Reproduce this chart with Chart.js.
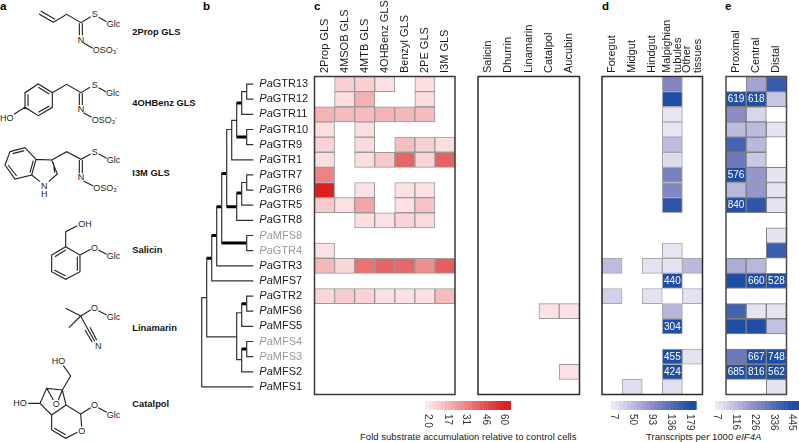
<!DOCTYPE html>
<html><head><meta charset="utf-8">
<script src="https://cdn.jsdelivr.net/npm/chart.js@4"></script>
<style>
html,body{margin:0;padding:0;background:#fff;width:799px;height:442px;overflow:hidden;font-family:"Liberation Sans",Arial,sans-serif}
canvas{position:absolute;left:0;top:0}
.t{position:absolute;color:#1a1a1a;white-space:nowrap}
.p{font-weight:bold;font-size:11.5px;color:#000}
svg{position:absolute;left:0;top:0}
svg text{font-family:"Liberation Sans",Arial,sans-serif;fill:#222}
svg path{fill:none;stroke:#222;stroke-width:3.4}
</style></head><body>
<svg width="200" height="442" viewBox="0 0 600 1326">
<g font-size="27">
<path d="M117 42L160 67M122 33L165 58M160 67L200 43L243 68L272 50M296 52L320 65M238 70L238 106M247 70L247 106M250 128L278 145"/>
<text x="275" y="52">S</text><text x="320" y="80">Glc</text><text x="233" y="128">N</text><text x="278" y="159">OSO<tspan font-size="18" dy="4">3</tspan><tspan font-size="18" dy="-12">-</tspan></text>
<path d="M115 252L157 278L157 322L115 347L75 322L75 278ZM84 283L84 318M115 262L148 282M148 318L115 337M157 278L200 253L243 278L270 262M296 263L318 275M238 280L238 315M247 280L247 315M250 338L275 352M75 322L42 343"/>
<text x="275" y="264">S</text><text x="318" y="288">Glc</text><text x="233" y="335">N</text><text x="275" y="368">OSO<tspan font-size="18" dy="4">3</tspan><tspan font-size="18" dy="-12">-</tspan></text><text x="0" y="364">HO</text>
<path d="M30 455L75 443L108 478L95 525L45 537L15 495ZM38 461L73 452M100 482L90 518M50 528L24 495M108 478L155 480L172 522L146 545M120 545L95 525M160 488L164 518M155 480L200 455L243 478L272 462M296 462L320 475M238 480L238 520M247 480L247 520M250 543L280 558"/>
<text x="275" y="466">S</text><text x="320" y="490">Glc</text><text x="233" y="540">N</text><text x="280" y="572">OSO<tspan font-size="18" dy="4">3</tspan><tspan font-size="18" dy="-12">-</tspan></text><text x="123" y="566">N</text><text x="123" y="591">H</text>
<path d="M197 740L240 765L240 815L197 838L155 815L155 765ZM165 770L197 750M232 770L232 812M197 828L163 810M197 740L197 695L232 677M240 765L272 748M295 750L320 763"/>
<text x="235" y="681">OH</text><text x="273" y="752">O</text><text x="320" y="778">Glc</text>
<path d="M242 948L197 925M242 948L207 983M242 948L272 930M295 932L320 945M242 948L262 985M262 985L284 1024M270 982L290 1020M255 990L277 1027"/>
<text x="273" y="934">O</text><text x="320" y="960">Glc</text><text x="285" y="1048">N</text>
<path d="M190 1097L212 1128L187 1170L140 1165L120 1210L155 1245L155 1290L197 1315L232 1297M245 1280L242 1242L198 1215L187 1170M198 1215L155 1245M85 1210L120 1210M140 1165L160 1200M187 1170L175 1200M163 1285L197 1304M242 1242L272 1223M295 1223L320 1237"/>
<text x="155" y="1092">HO</text><text x="40" y="1219">HO</text><text x="158" y="1222">O</text><text x="235" y="1303">O</text><text x="273" y="1225">O</text><text x="320" y="1253">Glc</text>
</g>
<g font-size="28" font-weight="bold" fill="#111">
<text x="397" y="105" style="fill:#111">2Prop GLS</text>
<text x="397" y="318" style="fill:#111">4OHBenz GLS</text>
<text x="397" y="527" style="fill:#111">I3M GLS</text>
<text x="397" y="760" style="fill:#111">Salicin</text>
<text x="397" y="992" style="fill:#111">Linamarin</text>
<text x="397" y="1222" style="fill:#111">Catalpol</text>
</g>
</svg>
<div class="t p" style="left:0;top:0">a</div>
<div class="t p" style="left:203px;top:0">b</div>
<div class="t p" style="left:314px;top:0">c</div>
<div class="t p" style="left:602px;top:0">d</div>
<div class="t p" style="left:725px;top:0">e</div>
<div class="t" style="left:360px;top:431px;font-size:9.55px">Fold substrate accumulation relative to control cells</div>
<div class="t" style="left:646px;top:431px;font-size:9.55px">Transcripts per 1000 <i>eIF4A</i></div>
<script>
const genes=['GTR13','GTR12','GTR11','GTR10','GTR9','GTR1','GTR7','GTR6','GTR5','GTR8','MFS8','GTR4','GTR3','MFS7','GTR2','MFS6','MFS5','MFS4','MFS3','MFS2','MFS1'];
const greyGenes=['MFS8','GTR4','MFS4','MFS3'];
const glsColumns=['2Prop GLS','4MSOB GLS','4MTB GLS','4OHBenz GLS','Benzyl GLS','2PE GLS','I3M GLS'];
const otherColumns=['Salicin','Dhurrin','Linamarin','Catalpol','Aucubin'];
const tissueColumns=['Foregut','Midgut','Hindgut',['Malpighian','tubules'],['Other','tissues']];
const segmentColumns=['Proximal','Central','Distal'];
const _=null;
const glsFold=[
[_,9,9,4,_,5,_],[_,5,18,_,_,5,_],[17,15,15,17,16,15,_],[5,_,5,_,_,_,_],[8,_,6,_,14,9,5],
[5,_,5,11,40,8,41],[31,_,_,_,_,_,_],[60,_,4,_,4,4,_],[10,4,21,_,4,13,_],[_,_,5,4,8,6,_],
[_,_,_,_,_,_,_],[4,_,_,_,_,_,_],[16,7,36,40,39,28,42],[_,_,_,_,_,_,_],[7,10,8,4,4,4,15],
[_,_,_,_,_,_,_],[_,_,_,_,_,_,_],[_,_,_,_,_,_,_],[_,_,_,_,_,_,_],[_,_,_,_,_,_,_],[_,_,_,_,_,_,_]];
const otherFold=[
[_,_,_,_,_],[_,_,_,_,_],[_,_,_,_,_],[_,_,_,_,_],[_,_,_,_,_],[_,_,_,_,_],[_,_,_,_,_],
[_,_,_,_,_],[_,_,_,_,_],[_,_,_,_,_],[_,_,_,_,_],[_,_,_,_,_],[_,_,_,_,_],[_,_,_,_,_],
[_,_,_,_,_],[_,_,_,4,4],[_,_,_,_,_],[_,_,_,_,_],[_,_,_,_,_],[_,_,_,_,4],[_,_,_,_,_]];
const tissueTpm=[
[_,_,_,102,_],[_,_,_,179,_],[_,_,_,12,_],[_,_,_,12,_],[_,_,_,50,_],[_,_,_,21,_],[_,_,_,110,_],
[_,_,_,102,_],[_,_,_,167,_],[_,_,_,_,_],[_,_,_,_,_],[_,_,_,12,_],[50,_,14,14,52],[_,_,_,440,_],
[30,_,14,_,14],[_,_,_,55,_],[_,_,_,304,_],[_,_,_,_,_],[_,_,_,455,14],[_,_,_,424,_],[_,18,_,16,_]];
const segmentTpm=[
[_,173,400],[619,618,86],[226,51,_],[117,117,20],[370,125,_],[296,86,_],[576,204,20],
[125,204,20],[840,414,20],[_,_,_],[_,_,20],[_,_,392],[151,125,_],[445,660,528],
[_,_,_],[370,20,20],[445,445,103],[_,_,_],[296,667,748],[685,816,562],[_,_,20]];
const foldTicks=[2,17,31,46,60];
const foldTickLabels=['2.0','17','31','46','60'];
const tissueTicks=[7,50,93,136,179];
const segmentTicks=[7,116,226,336,445];
const treeBranches=[
[0,14.1,0,20],[0,20,10.2,20],[0,14.1,1,14.1],[1,11.5,1,16.7],[1,16.7,7,16.7],[2,10,2,13],[2,13,10.2,13],
[3,8.1,3,12],[3,12,10.2,12],[4,5.9,4,10.5],[5,3,5,8.1],[5,3,6,3],[6,2.4,6,5],[6,5,10.2,5],[6,2.4,7,2.4],
[7,1.25,7,3.5],[8,.5,8,2],[8,2,10.2,2],[8,.5,9,.5],[9,0,9,1],[9,0,10.2,0],[9,1,10.2,1],[9,3,9,4],[9,3,10.2,3],[9,4,10.2,4],
[7,7.2,7,9],[7,9,10.2,9],[8,6.5,8,8],[8,8,10.2,8],[8,6.5,9,6.5],[9,6,9,7],[9,6,10.2,6],[9,7,10.2,7],
[9,10,9,11],[9,10,10.2,10],[9,11,10.2,11],
[7,15.1,7,18.2],[7,15.1,8,15.1],[8,14.5,8,16],[8,16,10.2,16],[9,14,9,15],[9,14,10.2,14],[9,15,10.2,15],
[7,18.2,8,18.2],[8,17.5,8,19],[8,19,10.2,19],[9,17,9,18],[9,17,10.2,17],[9,18,10.2,18]];
const strongBranches=[[1,11.5,2,11.5],[2,10,3,10],[3,8.1,4,8.1],[4,5.9,5,5.9],[4,10.5,9,10.5],[7,1.25,8,1.25],[7,3.5,9,3.5],[5,8.1,7,8.1],[7,7.2,8,7.2],[8,14.5,9,14.5],[8,17.5,9,17.5]];

const W=799,H=442,TOP=76.5,BOTTOM=394.5;
const FONT='"Liberation Sans",Arial,sans-serif';
function mix(a,b,t){return 'rgb('+a.map((v,i)=>Math.round(v+(b[i]-v)*t)).join(',')+')';}
function foldColor(v){const t=Math.min(1,Math.max(0,(v-2)/58));return mix([252,232,234],[220,32,32],t);}
function blueRamp(t){t=Math.min(1,Math.max(0,t));return t<.5?mix([234,234,246],[140,141,198],t*2):mix([140,141,198],[31,78,167],(t-.5)*2);}
const tissueColor=v=>blueRamp((v-7)/172), segmentColor=v=>blueRamp((v-7)/438);
function mk(){const c=document.createElement('canvas');document.body.appendChild(c);return c;}
function baseOpts(l,r,t,b){return {responsive:false,animation:false,devicePixelRatio:1,events:[],
 layout:{padding:{left:l,right:W-r,top:t,bottom:H-b}},plugins:{legend:{display:false},tooltip:{enabled:false}}};}
function heat(left,right,cols,matrix,colorFn,edge,frame,maxVal){
 const c=mk();c.width=W;c.height=H;
 const datasets=matrix.map((row,r)=>({data:row.map(v=>v==null?null:[r-.5,r+.5]),
  backgroundColor:row.map(v=>v==null?'transparent':colorFn(v)),borderColor:edge,borderWidth:1,borderSkipped:false,
  barPercentage:1,categoryPercentage:1,grouped:false}));
 new Chart(c,{type:'bar',data:{labels:cols.map((x,i)=>i),datasets},
  options:Object.assign(baseOpts(left,right,TOP,BOTTOM),{
   scales:{x:{display:false},y:{display:false,min:-.5,max:20.5,reverse:true}}}),
  plugins:[{id:'deco',afterDraw(ch){const g=ch.ctx,a=ch.chartArea,xs=ch.scales.x,ys=ch.scales.y;
   g.save();g.strokeStyle=frame;g.lineWidth=1.5;g.strokeRect(a.left,a.top,a.right-a.left,a.bottom-a.top);
   g.fillStyle='#1a1a1a';g.font='11px '+FONT;g.textBaseline='middle';
   cols.forEach((lab,i)=>{const lines=[].concat(lab),x=xs.getPixelForValue(i);
    lines.forEach((s,k)=>{g.save();g.translate(x+(k-(lines.length-1)/2)*10.7,a.top-3.5);g.rotate(-Math.PI/2);g.textAlign='left';g.fillText(s,0,0);g.restore();});});
   if(maxVal){g.fillStyle='#fff';g.font='10px '+FONT;g.textAlign='center';
    matrix.forEach((row,r)=>row.forEach((v,j)=>{if(v!=null&&v>maxVal)g.fillText(String(v),xs.getPixelForValue(j),ys.getPixelForValue(r)+.5);}));}
   g.restore();}}]});
}
heat(314.5,455,glsColumns,glsFold,foldColor,'#9a9a9a','#3a3a3a');
heat(478,579.5,otherColumns,otherFold,foldColor,'#9a9a9a','#2a2a2a');
heat(602,702.5,tissueColumns,tissueTpm,tissueColor,'#a8a8a8','#2a2a2a',179);
heat(726,786.5,segmentColumns,segmentTpm,segmentColor,'#808080','#4a4a4a',445);

function segs(list){const out=[];list.forEach(s=>{out.push({x:s[0],y:s[1]},{x:s[2],y:s[3]},{x:NaN,y:NaN});});return out;}
{const c=mk();c.width=W;c.height=H;
 new Chart(c,{type:'scatter',data:{datasets:[
  {data:segs(treeBranches),showLine:true,pointRadius:0,borderColor:'#333',borderWidth:1.2,spanGaps:false,borderCapStyle:'square',clip:false},
  {data:segs(strongBranches),showLine:true,pointRadius:0,borderColor:'#000',borderWidth:3,spanGaps:false,clip:false}]},
  options:Object.assign(baseOpts(201.7,252.7,TOP,BOTTOM),{
   scales:{x:{display:false,type:'linear',min:0,max:10.2},y:{display:false,min:-.5,max:20.5,reverse:true}}}),
  plugins:[{id:'genes',afterDraw(ch){const g=ch.ctx,ys=ch.scales.y;g.save();g.textBaseline='middle';g.textAlign='left';
   genes.forEach((n,i)=>{const y=ys.getPixelForValue(i);g.fillStyle=greyGenes.includes(n)?'#9a9a9a':'#1a1a1a';
    g.font='italic 11px '+FONT;g.fillText('Pa',259.3,y);const w=g.measureText('Pa').width;g.font='11px '+FONT;g.fillText(n,259.3+w,y);});
   g.restore();}}]});
}

function colorbar(left,right,lo,hi,ticks,labels,colorFn){
 const c=mk();c.width=W;c.height=H;const n=22,datasets=[];
 for(let i=0;i<n;i++){const a=lo+(hi-lo)*i/n,b=lo+(hi-lo)*(i+1)/n;
  datasets.push({data:[[a,b]],backgroundColor:colorFn((a+b)/2),borderWidth:0,barPercentage:1,categoryPercentage:1,grouped:false});}
 new Chart(c,{type:'bar',data:{labels:[''],datasets},
  options:Object.assign(baseOpts(left,right,401,410),{indexAxis:'y',
   scales:{x:{display:false,type:'linear',min:lo,max:hi},y:{display:false}}}),
  plugins:[{id:'ticks',afterDraw(ch){const g=ch.ctx,xs=ch.scales.x;g.save();g.fillStyle='#333';g.font='10px '+FONT;g.textBaseline='middle';g.textAlign='left';
   ticks.forEach((t,i)=>{g.save();g.translate(xs.getPixelForValue(t),414);g.rotate(Math.PI/2);g.fillText(labels[i],0,0);g.restore();});g.restore();}}]});
}
colorbar(425,511,-.3,65.3,foldTicks,foldTickLabels,foldColor);
colorbar(611,696.7,1,194,tissueTicks,tissueTicks.map(String),tissueColor);
colorbar(715,799,-4.7,486,segmentTicks,segmentTicks.map(String),segmentColor);
</script>
</body></html>
